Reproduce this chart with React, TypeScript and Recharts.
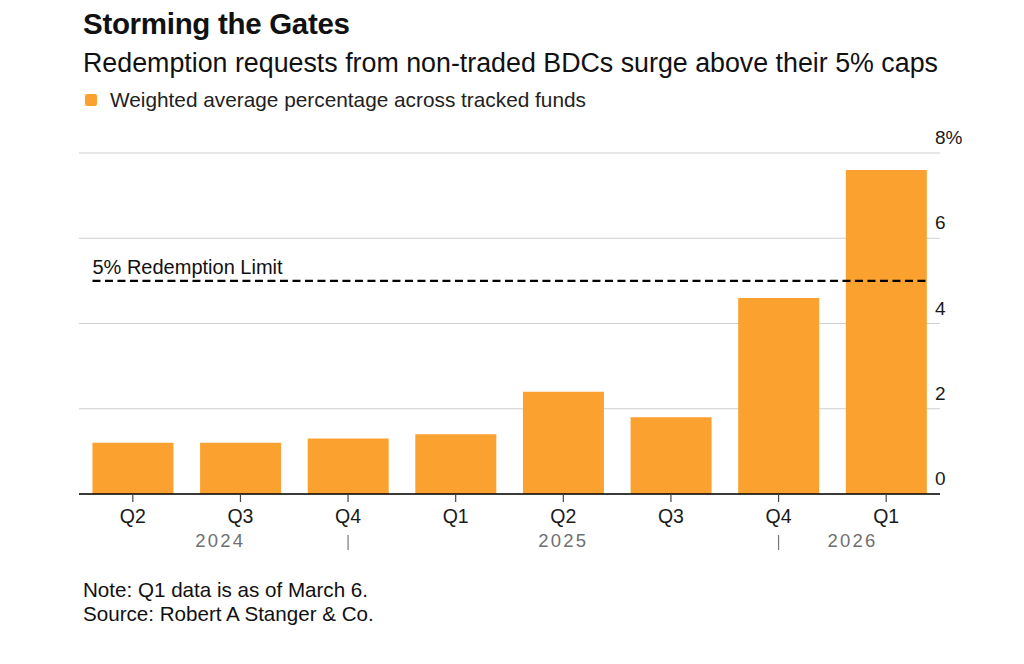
import React from 'react';
import { BarChart, Bar, XAxis, YAxis, CartesianGrid, ReferenceLine } from 'recharts';

const quarters = ['Q2', 'Q3', 'Q4', 'Q1', 'Q2', 'Q3', 'Q4', 'Q1'];
const years = ['2024', '2024', '2024', '2025', '2025', '2025', '2025', '2026'];
const redemptionPct = [1.2, 1.2, 1.3, 1.4, 2.4, 1.8, 4.6, 7.6];
const yTicks = [0, 2, 4, 6, 8];
const redemptionLimit = 5;

const data = quarters.map((q, i) => ({ key: `${q} ${years[i]}`, quarter: q, year: years[i], value: redemptionPct[i] }));

const FONT = '"Liberation Sans", Arial, Helvetica, sans-serif';
const ORANGE = '#FBA12F';

const CHART_W = 1024;
const CHART_H = 664;
const M_LEFT = 79;
const M_RIGHT = 24;
const Y_W = 60;
const PLOT_W = CHART_W - M_LEFT - M_RIGHT - Y_W;
const BAND = PLOT_W / data.length;
const BAR_W = BAND * 0.75;

const XTick = (props: any) => {
  const { x, y, index } = props;
  const i = index ?? 0;
  const yr = years[i];
  const isFirst = i === 0 || years[i - 1] !== yr;
  let last = i;
  while (last + 1 < years.length && years[last + 1] === yr) last++;
  const isLastGroup = last === years.length - 1;
  const isSep = !isLastGroup && (i === years.length - 1 || years[i + 1] !== yr);
  let yearEl = null;
  if (isFirst) {
    // year label sits centred between its bounds (bar edge or separator)
    const left = i === 0 ? x - BAR_W / 2 : x - BAND;
    const right = x + (last - i) * BAND + (isLastGroup ? BAR_W / 2 : 0);
    yearEl = (
      <text x={(left + right) / 2} y={y + 53} textAnchor="middle" fontSize={18.5} fill="#707070" letterSpacing={2.2} fontFamily={FONT}>
        {yr}
      </text>
    );
  }
  return (
    <g>
      <line x1={x} x2={x} y1={y} y2={y + 8} stroke="#444" strokeWidth={1.2} />
      <text x={x} y={y + 29} textAnchor="middle" fontSize={19.5} fill="#1a1a1a" fontFamily={FONT}>
        {quarters[i]}
      </text>
      {yearEl}
      {isSep && <line x1={x} x2={x} y1={y + 41} y2={y + 56} stroke="#777" strokeWidth={1.2} />}
    </g>
  );
};

const YTick = (props: any) => {
  const { x, y, payload } = props;
  const label = payload.value === 8 ? '8%' : String(payload.value);
  return (
    <text x={x - 5} y={y - 9} textAnchor="start" fontSize={19} fill="#1a1a1a" fontFamily={FONT}>
      {label}
    </text>
  );
};

const LimitLine = (props: any) => {
  const { x1, x2, y1 } = props;
  const inset = (BAND - BAR_W) / 2;
  const lx = Math.min(x1, x2) + inset;
  const rx = Math.max(x1, x2) - inset;
  return (
    <g>
      <line x1={lx} x2={rx} y1={y1} y2={y1} stroke="#000" strokeWidth={2.2} strokeDasharray="8 4.5" />
      <text x={lx} y={y1 - 7} fontSize={20} fill="#111" fontFamily={FONT}>
        5% Redemption Limit
      </text>
    </g>
  );
};

export default function App() {
  return (
    <div style={{ position: 'absolute', left: 0, top: 0, width: CHART_W, height: CHART_H, background: '#fff', fontFamily: FONT, color: '#111' }}>
      <div style={{ position: 'absolute', left: 83, top: 7, fontSize: 29.5, fontWeight: 700, lineHeight: '34px', letterSpacing: -0.3 }}>
        Storming the Gates
      </div>
      <div style={{ position: 'absolute', left: 83, top: 48, fontSize: 26.8, lineHeight: '31px' }}>
        Redemption requests from non-traded BDCs surge above their 5% caps
      </div>
      <div style={{ position: 'absolute', left: 85, top: 94, width: 12, height: 12, borderRadius: 2, background: ORANGE }} />
      <div style={{ position: 'absolute', left: 110, top: 88, fontSize: 20.8, lineHeight: '24px', color: '#222' }}>
        Weighted average percentage across tracked funds
      </div>
      <div style={{ position: 'absolute', left: 0, top: 0 }}>
        <BarChart
          width={CHART_W}
          height={CHART_H}
          data={data}
          margin={{ top: 153, right: M_RIGHT, bottom: 110, left: M_LEFT }}
          barCategoryGap="12.5%"
        >
          <CartesianGrid horizontal vertical={false} stroke="#cfcfcf" strokeWidth={1.2} />
          <XAxis
            dataKey="key"
            height={60}
            interval={0}
            tickLine={false}
            tickSize={0}
            tickMargin={0}
            axisLine={{ stroke: '#000', strokeWidth: 1.5 }}
            tick={<XTick />}
          />
          <YAxis
            orientation="right"
            width={Y_W}
            domain={[0, 8]}
            ticks={yTicks}
            axisLine={false}
            tickLine={false}
            tickSize={0}
            tickMargin={0}
            tick={<YTick />}
          />
          <Bar dataKey="value" fill={ORANGE} isAnimationActive={false} />
          <ReferenceLine y={redemptionLimit} shape={<LimitLine />} />
        </BarChart>
      </div>
      <div style={{ position: 'absolute', left: 83, top: 578, fontSize: 20.6, lineHeight: '24px', color: '#111' }}>
        Note: Q1 data is as of March 6.
        <br />
        Source: Robert A Stanger &amp; Co.
      </div>
    </div>
  );
}
